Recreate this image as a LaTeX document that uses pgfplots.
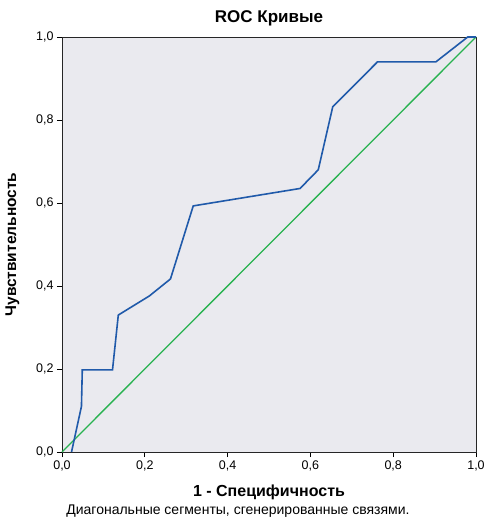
\documentclass[border=0pt]{standalone}
\usepackage{fontspec}
\setmainfont{Liberation Sans}
\usepackage{pgfplots}
\pgfplotsset{compat=1.18}
\definecolor{bg}{RGB}{234,234,239}
\definecolor{rocblue}{RGB}{32,90,170}
\definecolor{rocgreen}{RGB}{40,178,80}
\begin{document}
\begin{tikzpicture}
\useasboundingbox (-62bp,-67bp) rectangle (425bp,452bp);
\begin{axis}[
  scale only axis, width=414bp, height=415bp,
  xmin=0, xmax=1, ymin=0, ymax=1,
  clip=false,
  axis background/.style={fill=bg},
  axis line style={black!85, line width=0.9bp},
  xtick={0,0.2,0.4,0.6,0.8,1}, ytick={0,0.2,0.4,0.6,0.8,1},
  tick align=outside, tick pos=left, major tick length=5bp,
  tick style={black, line width=0.9bp},
  /pgf/number format/.cd, use comma, fixed, fixed zerofill, precision=1, assume math mode=true,
  /pgfplots/.cd,
  tick label style={font=\fontsize{12.5bp}{14bp}\selectfont},
  title={ROC Кривые},
  title style={font=\bfseries\fontsize{17bp}{20bp}\selectfont, at={(axis description cs:0.5,1.031)}, anchor=center},
  xlabel={1 - Специфичность},
  xlabel style={font=\bfseries\fontsize{16bp}{19bp}\selectfont, at={(axis description cs:0.5,-0.0964)}, anchor=center},
  ylabel={Чувствительность},
  ylabel style={font=\bfseries\fontsize{15.5bp}{18bp}\selectfont, at={(axis description cs:-0.1196,0.5)}, anchor=center},
]
\addplot[rocgreen, line width=1.3bp] coordinates {(0,0) (1,1)};
\addplot[rocblue, line width=1.6bp] coordinates {
(0.023,0) (0.047,0.11) (0.049,0.198) (0.122,0.198) (0.136,0.330)
(0.211,0.376) (0.262,0.417) (0.317,0.593) (0.575,0.635) (0.619,0.680)
(0.654,0.832) (0.762,0.940) (0.903,0.940) (0.98,1.0) (1,1)};
\node[font=\fontsize{14bp}{16bp}\selectfont, anchor=center] at (axis description cs:0.425,-0.142) {Диагональные сегменты, сгенерированные связями.};
\end{axis}
\end{tikzpicture}
\end{document}
